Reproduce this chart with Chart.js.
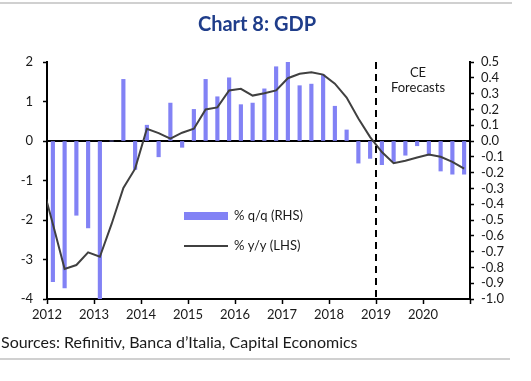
<!DOCTYPE html>
<html>
<head>
<meta charset="utf-8">
<script src="https://cdn.jsdelivr.net/npm/chart.js@4"></script>
<style>
  html, body { margin: 0; padding: 0; background: #fff; }
  #wrap { width: 531px; height: 381px; position: relative; }
</style>
</head>
<body>
<div id="wrap"><canvas id="gdpChart" width="531" height="381"></canvas></div>
<script>
// quarterly % q/q (RHS), 2012Q1 .. 2020Q4
const qoq = [-0.89, -0.93, -0.47, -0.55, -1.0, 0.0, 0.39, -0.18,
  0.10, -0.10, 0.24, -0.04, 0.20, 0.39, 0.28, 0.40,
  0.23, 0.24, 0.33, 0.47, 0.50, 0.35, 0.36, 0.42,
  0.22, 0.07, -0.14, -0.11, -0.15, -0.13, -0.09, -0.03,
  -0.09, -0.19, -0.21, -0.21];

// % y/y (LHS), 2011Q4 .. 2020Q4 (first point sits left of the axis)
const yoy = [-1.0,
  -2.1, -3.24, -3.14, -2.82, -2.93, -2.1, -1.19, -0.70,
  0.31, 0.20, 0.06, 0.21, 0.31, 0.80, 0.85, 1.28,
  1.32, 1.15, 1.21, 1.28, 1.59, 1.70, 1.74, 1.68,
  1.45, 1.10, 0.57, 0.10, -0.28, -0.56, -0.50, -0.42,
  -0.34, -0.40, -0.53, -0.70];

const years = [2012, 2013, 2014, 2015, 2016, 2017, 2018, 2019, 2020, 2021];
const leftTicks = [2, 1, 0, -1, -2, -3, -4];
const forecastStart = 2019;

const barColor = '#8282f5';
const lineColor = '#404040';
const font = 'Lato, "Open Sans", sans-serif';

// quarter mid points in years
const qoqPoints = qoq.map((v, i) => ({ x: 2012.125 + 0.25 * i, y: v }));
const yoyPoints = yoy.map((v, i) => ({ x: 2011.875 + 0.25 * i, y: v }));

const rightTicks = [];
for (let k = -10; k <= 5; k++) rightTicks.push(k / 10);

const decorations = {
  id: 'decorations',
  beforeDatasetsDraw(chart) {
    const { ctx, chartArea } = chart;
    const y0 = chart.scales.yL.getPixelForValue(0);
    ctx.save();
    ctx.strokeStyle = '#000';
    ctx.lineWidth = 2;
    ctx.beginPath();
    ctx.moveTo(chartArea.left, y0);
    ctx.lineTo(chartArea.right, y0);
    ctx.stroke();
    ctx.restore();
  },
  afterDraw(chart) {
    const { ctx, chartArea } = chart;
    ctx.save();

    // frame lines
    ctx.strokeStyle = '#d0d0d0';
    ctx.lineWidth = 2;
    ctx.beginPath();
    ctx.moveTo(0, 3); ctx.lineTo(512, 3);
    ctx.moveTo(0, 359); ctx.lineTo(510, 359);
    ctx.stroke();

    // title
    ctx.fillStyle = '#1f3d8a';
    ctx.font = 'bold 20px ' + font;
    ctx.textAlign = 'center';
    ctx.textBaseline = 'alphabetic';
    ctx.fillText('Chart 8: GDP', 257, 31);

    // source
    ctx.fillStyle = '#1a1a1a';
    ctx.font = '16px ' + font;
    ctx.textAlign = 'left';
    ctx.fillText('Sources: Refinitiv, Banca d\u2019Italia, Capital Economics', 1, 348);

    // forecast divider
    const xf = chart.scales.x.getPixelForValue(forecastStart);
    ctx.strokeStyle = '#000';
    ctx.lineWidth = 2;
    ctx.setLineDash([7, 5]);
    ctx.beginPath();
    ctx.moveTo(xf, chartArea.top);
    ctx.lineTo(xf, chartArea.bottom);
    ctx.stroke();
    ctx.setLineDash([]);

    ctx.fillStyle = '#1a1a1a';
    ctx.font = '13px ' + font;
    ctx.textAlign = 'center';
    ctx.textBaseline = 'middle';
    ctx.fillText('CE', 418, 73);
    ctx.fillText('Forecasts', 418, 88);

    // legend
    ctx.fillStyle = barColor;
    ctx.fillRect(184, 212, 44, 8);
    ctx.strokeStyle = lineColor;
    ctx.lineWidth = 2;
    ctx.beginPath();
    ctx.moveTo(184, 246);
    ctx.lineTo(228, 246);
    ctx.stroke();
    ctx.fillStyle = '#1a1a1a';
    ctx.textAlign = 'left';
    ctx.fillText('% q/q (RHS)', 234, 216);
    ctx.fillText('% y/y (LHS)', 234, 246);

    ctx.restore();
  }
};

new Chart(document.getElementById('gdpChart'), {
  type: 'bar',
  data: {
    datasets: [{
      type: 'line',
      label: '% y/y (LHS)',
      data: yoyPoints,
      yAxisID: 'yL',
      borderColor: lineColor,
      borderWidth: 2,
      pointRadius: 0,
      tension: 0,
      clip: 0,
      order: 0
    }, {
      label: '% q/q (RHS)',
      data: qoqPoints,
      yAxisID: 'yR',
      backgroundColor: barColor,
      barThickness: 3.5,
      clip: 0,
      order: 1
    }]
  },
  options: {
    responsive: false,
    animation: false,
    layout: { padding: { top: 62, left: 0, right: 0, bottom: 0 } },
    plugins: { legend: { display: false }, tooltip: { enabled: false } },
    scales: {
      x: {
        type: 'linear',
        min: 2012,
        max: 2021,
        offset: false,
        afterBuildTicks: s => { s.ticks = years.map(v => ({ value: v })); },
        afterFit: s => { s.height = 82; },
        ticks: {
          autoSkip: false,
          maxRotation: 0,
          padding: 3,
          color: '#1a1a1a',
          font: { family: font, size: 13 },
          callback: v => (v === 2021 ? '' : String(v))
        },
        grid: { offset: false, drawOnChartArea: false, drawTicks: true, tickLength: 5, tickColor: '#000', tickWidth: 1.5 },
        border: { display: true, color: '#000', width: 2 }
      },
      yL: {
        position: 'left',
        min: -4,
        max: 2,
        afterBuildTicks: s => { s.ticks = leftTicks.map(v => ({ value: v })); },
        afterFit: s => { s.width = 47; },
        ticks: {
          autoSkip: false,
          padding: 10,
          color: '#1a1a1a',
          font: { family: font, size: 13 },
          callback: v => String(v)
        },
        grid: { drawOnChartArea: false, drawTicks: true, tickLength: 4, tickColor: '#000', tickWidth: 1.5 },
        border: { display: true, color: '#000', width: 2 }
      },
      yR: {
        position: 'right',
        min: -1,
        max: 0.5,
        afterBuildTicks: s => { s.ticks = rightTicks.map(v => ({ value: v })); },
        afterFit: s => { s.width = 61; },
        ticks: {
          autoSkip: false,
          padding: 7,
          color: '#1a1a1a',
          font: { family: font, size: 13 },
          callback: v => (Math.abs(v) < 1e-9 ? '0.0' : v.toFixed(1))
        },
        grid: { drawOnChartArea: false, drawTicks: true, tickLength: 4, tickColor: '#000', tickWidth: 1.5 },
        border: { display: true, color: '#000', width: 2 }
      }
    }
  },
  plugins: [decorations]
});
</script>
</body>
</html>
